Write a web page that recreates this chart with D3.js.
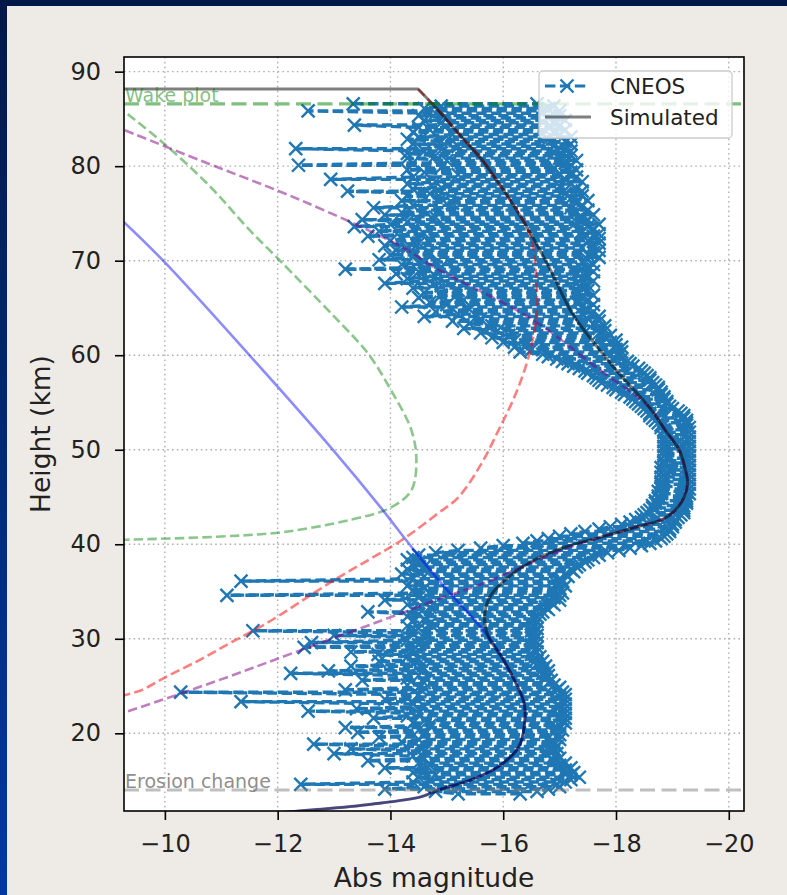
<!DOCTYPE html>
<html><head><meta charset="utf-8">
<script src="https://cdn.jsdelivr.net/npm/d3@7"></script>
<style>body{margin:0;background:#eeebe6;}svg{display:block;}</style>
</head><body>
<svg id="chart" width="787" height="895"></svg>
<script>
// ---------- data ----------
const xTicks = [-10, -12, -14, -16, -18, -20];
const yTicks = [20, 30, 40, 50, 60, 70, 80, 90];
const xDomain = [-9.275, -20.27];
const yDomain = [11.78, 91.55];
const xLabel = "Abs magnitude";
const yLabel = "Height (km)";
const legendNames = ["CNEOS", "Simulated"];
const wakeHeight = 86.6;
const wakeLabel = "Wake plot";
const erosionHeight = 14.0;
const erosionLabel = "Erosion change";

// [height km, abs magnitude]
const simulated = [[88.16,-9.0],[88.16,-14.49],[85.9,-14.85],[83.1,-15.26],[80.7,-15.62],[78.2,-15.92],[75.7,-16.20],[73.25,-16.45],[69.33,-16.81],[64.46,-17.22],[61.6,-17.57],[58.1,-18.05],[54.5,-18.59],[52.1,-18.87],[50.0,-19.12],[47.9,-19.23],[46.5,-19.27],[45.0,-19.21],[43.6,-19.05],[42.6,-18.82],[41.9,-18.41],[40.7,-17.70],[39.7,-17.09],[38.2,-16.51],[36.2,-16.03],[34.4,-15.76],[32.3,-15.67],[30.2,-15.74],[28.1,-15.97],[25.6,-16.20],[23.2,-16.37],[21.1,-16.38],[18.6,-16.28],[16.5,-15.92],[15.1,-15.44],[14.0,-14.85],[13.3,-14.55],[12.5,-13.66],[11.9,-12.64],[11.5,-11.8]];

const redDashed = [[88.16,-14.49],[85.9,-14.85],[83.1,-15.26],[80.7,-15.62],[78.2,-15.92],[75.7,-16.20],[73.5,-16.42],[71.5,-16.53],[68.7,-16.58],[65.5,-16.60],[62.8,-16.56],[59.2,-16.42],[55.6,-16.20],[52.1,-15.92],[48.6,-15.62],[45.0,-15.21],[43.3,-14.85],[40.4,-14.19],[38.3,-13.6],[36.2,-13.0],[33.9,-12.4],[31.7,-11.82],[29.7,-11.2],[27.8,-10.63],[25.9,-10.0],[24.6,-9.6],[24.3,-9.45],[23.9,-9.2]];

const greenDashed = [[86.4,-9.15],[82.46,-9.97],[77.8,-10.81],[73.25,-11.50],[70.07,-12.03],[64.1,-13.0],[60.2,-13.6],[56.3,-14.01],[52.1,-14.37],[48.9,-14.46],[45.7,-14.37],[43.9,-14.01],[42.6,-13.30],[41.3,-12.11],[40.8,-10.93],[40.5,-9.44],[40.45,-9.0]];

const purpleDashed = [[83.8,-9.29],[80.6,-10.63],[76.4,-12.41],[71.5,-14.19],[69.3,-14.78],[63.8,-16.51],[58.5,-17.70],[54.5,-18.59],[52.1,-18.87],[50.0,-19.12],[47.9,-19.23],[46.5,-19.27],[45.0,-19.21],[43.6,-19.05],[42.6,-18.82],[41.9,-18.41],[40.7,-17.70],[39.5,-17.09],[37.8,-16.4],[35.9,-15.67],[34.3,-14.90],[32.7,-14.19],[28.8,-12.41],[25.5,-10.9],[22.3,-9.33],[21.9,-9.1]];

const blueSolid = [[74.1,-9.27],[70.0,-9.97],[60.2,-11.47],[50.2,-12.95],[43.8,-13.84],[40.8,-14.23],[38.4,-14.55],[35.2,-15.0],[32.0,-15.49],[30.2,-15.74],[28.1,-15.97],[25.6,-16.20],[23.2,-16.37],[21.1,-16.38],[18.6,-16.28],[16.5,-15.92],[15.1,-15.44],[14.0,-14.85],[13.3,-14.55],[12.5,-13.66],[11.9,-12.64],[11.5,-11.8]];

// CNEOS readings, grouped in rows: [height km, dimmest mag, brightest mag]
const cneosUpperRows = [[86.60,-13.34,-16.6],[86.35,-14.9,-16.9],[86.10,-14.6,-16.8],[85.85,-12.54,-17.0],[85.60,-14.8,-16.7],[85.35,-14.5,-17.0],[85.10,-15.0,-16.8],[84.85,-14.6,-17.1],[84.60,-14.9,-16.9],[84.35,-13.36,-17.0],[84.10,-14.5,-16.8],[83.85,-14.7,-17.1],[83.60,-14.4,-16.9],[83.35,-15.1,-17.0],[83.10,-14.5,-17.2],[82.85,-14.3,-16.8],[82.60,-14.9,-17.1],[82.35,-14.4,-17.2],[82.10,-15.2,-16.9],[81.85,-12.32,-17.1],[81.60,-14.6,-17.2],[81.35,-14.3,-16.9],[81.10,-14.8,-17.2],[80.85,-14.3,-17.0],[80.60,-15.0,-17.3],[80.35,-14.4,-17.1],[80.10,-12.37,-17.2],[79.85,-14.9,-16.9],[79.60,-14.3,-17.3],[79.35,-14.6,-17.2],[79.10,-15.2,-17.0],[78.85,-14.4,-17.3],[78.60,-12.94,-17.1],[78.35,-14.8,-17.4],[78.10,-14.3,-17.2],[77.85,-15.0,-17.0],[77.60,-14.4,-17.3],[77.35,-13.24,-17.4],[77.10,-14.7,-17.1],[76.85,-14.3,-17.4],[76.60,-14.9,-17.2],[76.35,-14.2,-17.5],[76.10,-15.1,-17.3],[75.85,-14.4,-17.4],[75.60,-13.7,-17.2],[75.35,-14.6,-17.5],[75.10,-14.2,-17.3],[74.85,-13.9,-17.6],[74.60,-14.8,-17.4],[74.35,-13.5,-17.5],[74.10,-14.3,-17.3],[73.85,-14.0,-17.7],[73.60,-13.36,-17.5],[73.35,-14.4,-17.6],[73.10,-13.8,-17.4],[72.85,-14.6,-17.7],[72.60,-13.6,-17.6],[72.35,-14.2,-17.7],[72.10,-14.0,-17.5],[71.85,-14.5,-17.7],[71.60,-13.9,-17.6],[71.35,-14.3,-17.4],[71.10,-14.1,-17.7],[70.85,-14.7,-17.6],[70.60,-14.0,-17.5],[70.35,-14.4,-17.7],[70.10,-13.8,-17.5],[69.85,-14.6,-17.4],[69.60,-14.2,-17.6],[69.35,-14.9,-17.5],[69.10,-13.2,-17.4],[68.85,-14.5,-17.6],[68.60,-14.1,-17.3],[68.35,-14.8,-17.5],[68.10,-14.3,-17.4],[67.85,-14.6,-17.6],[67.60,-13.9,-17.3],[67.35,-14.9,-17.5],[67.10,-14.4,-17.4],[66.85,-15.2,-17.5],[66.60,-14.6,-17.3],[66.35,-14.9,-17.6],[66.10,-14.5,-17.4],[65.85,-15.3,-17.5],[65.60,-14.7,-17.3],[65.35,-15.0,-17.6],[65.10,-14.2,-17.4],[64.85,-15.4,-17.5],[64.60,-14.8,-17.6],[64.35,-15.2,-17.4],[64.10,-14.6,-17.7],[63.85,-15.6,-17.5],[63.60,-15.1,-17.7],[63.35,-15.4,-17.6],[63.10,-15.8,-17.8],[62.85,-15.3,-17.7],[62.60,-15.9,-17.8],[62.35,-15.6,-17.7],[62.10,-16.1,-17.9],[61.85,-15.8,-17.8],[61.60,-16.2,-18.0],[61.35,-16.0,-17.9],[61.10,-16.4,-18.0],[60.85,-16.2,-18.1],[60.60,-16.5,-18.0],[60.35,-16.3,-18.1],[60.10,-16.7,-18.05]];

const cneosBandRows = [[59.85,-16.8,-18.05],[59.60,-16.95,-18.1],[59.35,-17.05,-18.2],[59.10,-17.15,-18.25],[58.85,-17.25,-18.3],[58.60,-17.35,-18.4],[58.35,-17.45,-18.45],[58.10,-17.5,-18.5],[57.85,-17.6,-18.55],[57.60,-17.65,-18.6],[57.35,-17.7,-18.6],[57.10,-17.75,-18.65],[56.85,-17.85,-18.7],[56.60,-17.95,-18.75],[56.35,-18.0,-18.75],[56.10,-18.1,-18.8],[55.85,-18.15,-18.8],[55.60,-18.25,-18.85],[55.35,-18.3,-18.85],[55.10,-18.35,-18.9],[54.85,-18.4,-18.9],[54.60,-18.45,-18.95],[54.35,-18.5,-19.0],[54.10,-18.55,-19.1],[53.85,-18.6,-19.15],[53.60,-18.6,-19.2],[53.35,-18.65,-19.2],[53.10,-18.7,-19.25],[52.85,-18.75,-19.25],[52.60,-18.8,-19.25],[52.35,-18.8,-19.3],[52.10,-18.85,-19.25],[51.85,-18.85,-19.3],[51.60,-18.9,-19.25],[51.35,-18.85,-19.3],[51.10,-18.9,-19.25],[50.85,-18.85,-19.3],[50.60,-18.9,-19.25],[50.35,-18.85,-19.3],[50.10,-18.9,-19.25],[49.85,-18.85,-19.3],[49.60,-18.9,-19.25],[49.35,-18.85,-19.3],[49.10,-18.9,-19.25],[48.85,-18.85,-19.3],[48.60,-18.85,-19.25],[48.35,-18.85,-19.3],[48.10,-18.8,-19.25],[47.85,-18.85,-19.3],[47.60,-18.8,-19.25],[47.35,-18.85,-19.3],[47.10,-18.8,-19.25],[46.85,-18.85,-19.3],[46.60,-18.8,-19.25],[46.35,-18.8,-19.3],[46.10,-18.8,-19.25],[45.85,-18.8,-19.3],[45.60,-18.75,-19.25],[45.35,-18.8,-19.3],[45.10,-18.75,-19.25],[44.85,-18.75,-19.25],[44.60,-18.7,-19.25],[44.35,-18.7,-19.25],[44.10,-18.65,-19.2],[43.85,-18.65,-19.2],[43.60,-18.6,-19.2],[43.35,-18.55,-19.2],[43.10,-18.5,-19.15],[42.85,-18.45,-19.1],[42.60,-18.35,-19.05],[42.35,-18.25,-19.05],[42.10,-18.1,-19.0],[41.85,-17.9,-19.0],[41.60,-17.7,-18.95],[41.35,-17.45,-18.95],[41.10,-17.2,-18.9],[40.85,-17.0,-18.85],[40.60,-16.8,-18.8],[40.35,-16.6,-18.7],[40.10,-16.35,-18.6],[39.85,-16.0,-18.45],[39.60,-15.6,-18.25],[39.35,-15.2,-18.05],[39.10,-14.8,-17.85],[38.85,-14.5,-17.7],[38.60,-14.4,-17.6],[38.35,-14.3,-17.5],[38.10,-14.5,-17.45]];

const cneosLowerRows = [[37.85,-14.4,-17.35],[37.60,-14.6,-17.3],[37.35,-14.3,-17.2],[37.10,-14.5,-17.25],[36.85,-14.2,-17.1],[36.60,-14.6,-17.15],[36.35,-14.4,-17.0],[36.10,-11.35,-17.05],[35.85,-14.5,-16.95],[35.60,-14.3,-17.1],[35.35,-14.6,-17.0],[35.10,-14.4,-16.9],[34.85,-14.7,-17.05],[34.60,-11.10,-17.0],[34.35,-14.5,-16.9],[34.10,-13.9,-17.0],[33.85,-14.6,-16.85],[33.60,-14.3,-16.9],[33.35,-14.7,-16.75],[33.10,-14.4,-16.8],[32.85,-13.6,-16.7],[32.60,-14.5,-16.65],[32.35,-14.3,-16.6],[32.10,-14.6,-16.55],[31.85,-14.4,-16.6],[31.60,-14.7,-16.5],[31.35,-14.3,-16.55],[31.10,-14.5,-16.6],[30.85,-11.56,-16.5],[30.60,-14.4,-16.55],[30.35,-13.0,-16.6],[30.10,-14.6,-16.5],[29.85,-14.3,-16.55],[29.60,-12.6,-16.6],[29.35,-14.5,-16.5],[29.10,-12.47,-16.6],[28.85,-14.4,-16.55],[28.60,-13.3,-16.6],[28.35,-13.78,-16.5],[28.10,-14.3,-16.65],[27.85,-14.5,-16.6],[27.60,-13.8,-16.7],[27.35,-14.4,-16.6],[27.10,-13.3,-16.75],[26.85,-14.6,-16.7],[26.60,-12.9,-16.8],[26.35,-12.23,-16.7],[26.10,-14.5,-16.8],[25.85,-14.3,-16.75],[25.60,-13.5,-16.85],[25.35,-14.6,-16.8],[25.10,-14.3,-16.9],[24.85,-14.5,-17.0],[24.60,-13.2,-16.95],[24.35,-10.28,-17.05],[24.10,-14.5,-17.1],[23.85,-14.3,-17.0],[23.60,-13.9,-17.1],[23.35,-11.35,-17.05],[23.10,-14.4,-17.1],[22.85,-14.6,-17.0],[22.60,-13.4,-17.1],[22.35,-12.54,-17.05],[22.10,-14.5,-17.1],[21.85,-14.3,-17.0],[21.60,-13.7,-17.1],[21.35,-14.6,-17.05],[21.10,-14.4,-17.1],[20.85,-14.7,-17.0],[20.60,-13.2,-16.95],[20.35,-14.5,-17.05],[20.10,-13.42,-16.9],[19.85,-14.6,-17.0],[19.60,-13.8,-16.95],[19.35,-14.5,-17.0],[19.10,-14.2,-16.9],[18.85,-12.64,-16.85],[18.60,-14.5,-16.95],[18.35,-13.3,-16.9],[18.10,-14.6,-16.85],[17.85,-13.0,-16.95],[17.60,-14.4,-16.9],[17.35,-14.6,-17.0],[17.10,-13.6,-16.9],[16.85,-14.5,-17.1],[16.60,-14.7,-17.0],[16.35,-13.9,-17.2],[16.10,-14.6,-17.1],[15.85,-14.4,-17.25],[15.60,-14.8,-17.2],[15.35,-14.5,-17.35],[15.10,-14.7,-17.2],[14.85,-14.4,-17.1],[14.60,-12.41,-16.95],[14.35,-14.6,-17.0],[14.10,-13.9,-16.8],[13.85,-14.8,-16.6],[13.60,-15.2,-16.3]];

const cneosRows = cneosUpperRows.concat(cneosBandRows, cneosLowerRows);
// readings in observation order (rows traversed back and forth)
const cneos = [];
cneosRows.forEach((r, i) => {
  if (i % 2 === 0) { cneos.push([r[0], r[1]], [r[0], r[2]]); }
  else { cneos.push([r[0], r[2]], [r[0], r[1]]); }
});

// ---------- layout ----------
const W = 787, H = 895;
const P = {left: 124, right: 744, top: 57, bottom: 811};
const FONT = "DejaVu Sans, Liberation Sans, sans-serif";

const svg = d3.select("#chart");
const defs = svg.append("defs");
const grad = defs.append("linearGradient").attr("id", "edge").attr("x1", 0).attr("y1", 0).attr("x2", 0).attr("y2", 1);
grad.append("stop").attr("offset", "0%").attr("stop-color", "#001848");
grad.append("stop").attr("offset", "100%").attr("stop-color", "#0038a8");
defs.append("clipPath").attr("id", "plotclip").append("rect")
  .attr("x", P.left).attr("y", P.top).attr("width", P.right - P.left).attr("height", P.bottom - P.top);

svg.append("rect").attr("width", W).attr("height", H).attr("fill", "#eeebe6");
svg.append("rect").attr("x", 0).attr("y", 0).attr("width", 7).attr("height", H).attr("fill", "url(#edge)");
svg.append("rect").attr("x", 0).attr("y", 0).attr("width", W).attr("height", 6).attr("fill", "#001848");

const x = d3.scaleLinear().domain(xDomain).range([P.left, P.right]);
const y = d3.scaleLinear().domain(yDomain).range([P.bottom, P.top]);

svg.append("rect").attr("x", P.left).attr("y", P.top).attr("width", P.right - P.left).attr("height", P.bottom - P.top).attr("fill", "#fff");

// grid
const grid = svg.append("g").attr("stroke", "#b0b0b0").attr("stroke-width", 1.4).attr("stroke-dasharray", "1.6 3.2");
grid.selectAll("line.v").data(xTicks).join("line").attr("class", "v")
  .attr("x1", d => x(d)).attr("x2", d => x(d)).attr("y1", P.top).attr("y2", P.bottom);
grid.selectAll("line.h").data(yTicks).join("line").attr("class", "h")
  .attr("y1", d => y(d)).attr("y2", d => y(d)).attr("x1", P.left).attr("x2", P.right);

const plot = svg.append("g").attr("clip-path", "url(#plotclip)");
const lineLin = d3.line().x(d => x(d[1])).y(d => y(d[0]));
const lineSmooth = d3.line().x(d => x(d[1])).y(d => y(d[0])).curve(d3.curveCatmullRom.alpha(0.5));

const blueC = "#1f77b4";
// CNEOS dashed line, one piece per row so that the dash phase varies
const pieces = d3.range(cneosRows.length).map(i => cneos.slice(2 * i, 2 * i + 3));
plot.append("g").selectAll("path").data(pieces).join("path")
  .attr("d", lineLin).attr("fill", "none")
  .attr("stroke", blueC).attr("stroke-width", 3.4).attr("stroke-dasharray", "10.4 4.5")
  .attr("stroke-dashoffset", (d, i) => ((i * i * 37 + i * 11) % 149) / 10);
const xm = "M-6.5,-6.5L6.5,6.5M-6.5,6.5L6.5,-6.5";
plot.append("g").selectAll("path").data(cneos).join("path")
  .attr("transform", d => `translate(${x(d[1])},${y(d[0])})`)
  .attr("d", xm).attr("stroke", blueC).attr("stroke-width", 2.4).attr("fill", "none");

// model curves
const dash = "9.5 4.2";
plot.append("path").datum(greenDashed).attr("d", lineSmooth).attr("fill", "none")
  .attr("stroke", "#008000").attr("stroke-opacity", 0.45).attr("stroke-width", 2.6).attr("stroke-dasharray", dash);
plot.append("path").datum(purpleDashed).attr("d", lineSmooth).attr("fill", "none")
  .attr("stroke", "#800080").attr("stroke-opacity", 0.5).attr("stroke-width", 2.6).attr("stroke-dasharray", dash);
plot.append("path").datum(redDashed).attr("d", lineSmooth).attr("fill", "none")
  .attr("stroke", "#ff0000").attr("stroke-opacity", 0.5).attr("stroke-width", 2.6).attr("stroke-dasharray", dash);
plot.append("path").datum(blueSolid).attr("d", lineSmooth).attr("fill", "none")
  .attr("stroke", "#0000ff").attr("stroke-opacity", 0.45).attr("stroke-width", 2.6);
// simulated: straight entry segment, then the smooth light curve
const simPath = lineLin(simulated.slice(0, 2)) + lineSmooth(simulated.slice(1)).replace(/^M[^A-Za-z]*/, "");
plot.append("path").attr("d", simPath).attr("fill", "none")
  .attr("stroke", "#000").attr("stroke-opacity", 0.5).attr("stroke-width", 3).attr("stroke-linejoin", "round");

// reference lines
plot.append("line").attr("x1", P.left).attr("x2", P.right).attr("y1", y(wakeHeight)).attr("y2", y(wakeHeight))
  .attr("stroke", "#008000").attr("stroke-opacity", 0.5).attr("stroke-width", 3.2).attr("stroke-dasharray", "15 6.5");
plot.append("line").attr("x1", P.left).attr("x2", P.right).attr("y1", y(erosionHeight)).attr("y2", y(erosionHeight))
  .attr("stroke", "#808080").attr("stroke-opacity", 0.5).attr("stroke-width", 3.2).attr("stroke-dasharray", "15 6.5");
plot.append("text").attr("x", P.left + 1).attr("y", y(wakeHeight) - 2).text(wakeLabel)
  .attr("font-family", FONT).attr("font-size", 19).attr("fill", "#008000").attr("fill-opacity", 0.5);
plot.append("text").attr("x", P.left + 1).attr("y", y(erosionHeight) - 2).text(erosionLabel)
  .attr("font-family", FONT).attr("font-size", 19).attr("fill", "#808080").attr("fill-opacity", 0.9);

// frame
svg.append("rect").attr("x", P.left).attr("y", P.top).attr("width", P.right - P.left).attr("height", P.bottom - P.top)
  .attr("fill", "none").attr("stroke", "#000").attr("stroke-width", 1.6);

// axes
const fmt = d3.format("d");
const xa = svg.append("g").attr("transform", `translate(0,${P.bottom})`)
  .call(d3.axisBottom(x).tickValues(xTicks).tickSize(9).tickPadding(6).tickFormat(fmt));
const ya = svg.append("g").attr("transform", `translate(${P.left},0)`)
  .call(d3.axisLeft(y).tickValues(yTicks).tickSize(9).tickPadding(6).tickFormat(fmt));
[xa, ya].forEach(a => {
  a.select(".domain").remove();
  a.selectAll(".tick line").attr("stroke", "#000").attr("stroke-width", 1.6);
  a.selectAll(".tick text").attr("font-family", FONT).attr("font-size", 24).attr("fill", "#222");
});
xa.selectAll(".tick text").attr("y", 24);
ya.selectAll(".tick text").attr("x", -23);

svg.append("text").attr("x", (P.left + P.right) / 2).attr("y", 887).attr("text-anchor", "middle")
  .attr("font-family", FONT).attr("font-size", 26.5).attr("fill", "#222").text(xLabel);
svg.append("text").attr("transform", `translate(50,${(P.top + P.bottom) / 2})rotate(-90)`).attr("text-anchor", "middle")
  .attr("font-family", FONT).attr("font-size", 26.5).attr("fill", "#222").text(yLabel);

// legend
const lg = svg.append("g");
lg.append("rect").attr("x", 539).attr("y", 71).attr("width", 193).attr("height", 67).attr("rx", 4)
  .attr("fill", "#fff").attr("fill-opacity", 0.8).attr("stroke", "#cccccc").attr("stroke-width", 1.3);
lg.append("line").attr("x1", 545).attr("x2", 589).attr("y1", 86).attr("y2", 86)
  .attr("stroke", blueC).attr("stroke-width", 2.8).attr("stroke-dasharray", "10.4 4.5");
lg.append("path").attr("transform", "translate(567,86)").attr("d", xm).attr("stroke", blueC).attr("stroke-width", 2.4);
lg.append("line").attr("x1", 545).attr("x2", 591).attr("y1", 117).attr("y2", 117)
  .attr("stroke", "#000").attr("stroke-opacity", 0.5).attr("stroke-width", 3);
lg.selectAll("text").data(legendNames).join("text")
  .attr("x", 610).attr("y", (d, i) => 86 + i * 31).attr("dy", "0.36em")
  .attr("font-family", FONT).attr("font-size", 21.5).attr("fill", "#222").text(d => d);
</script>
</body></html>
